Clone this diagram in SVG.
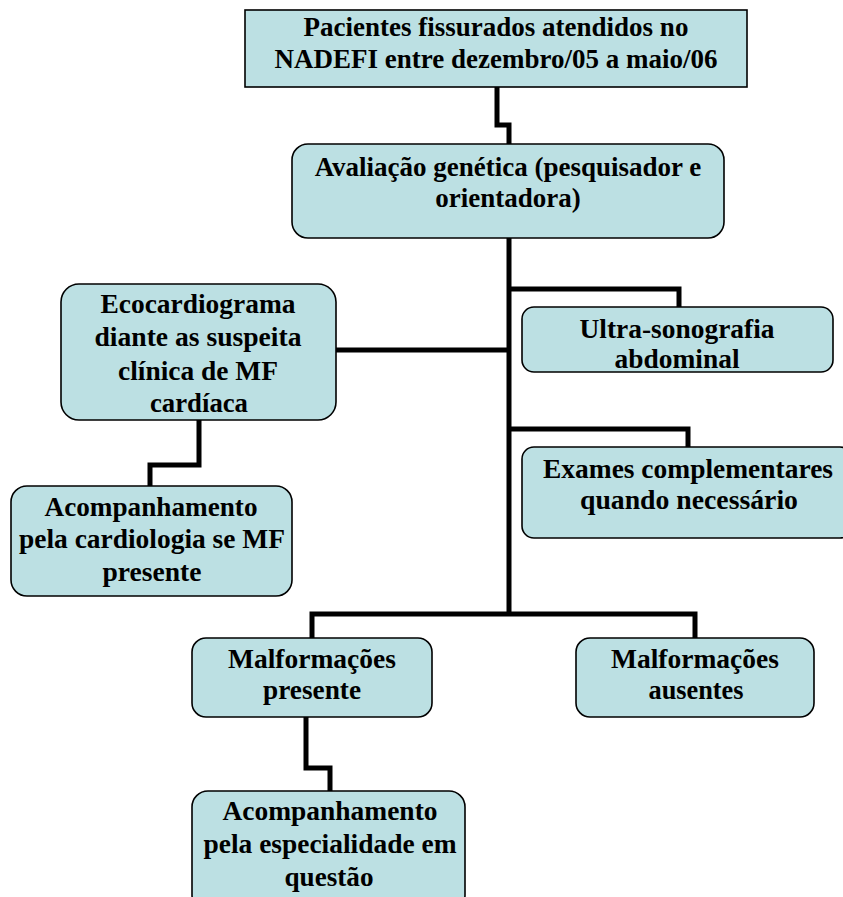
<svg xmlns="http://www.w3.org/2000/svg" width="843" height="897" viewBox="0 0 843 897">
<style>
.box{fill:#bce0e3;stroke:#000;stroke-width:1.6}
.t{font-family:'Liberation Serif',serif;font-weight:700;font-size:27px;fill:#000;text-anchor:middle}
.c{fill:none;stroke:#000;stroke-width:5;stroke-linejoin:miter}
</style>
<rect width="843" height="897" fill="#fff"/>
<g id="connectors">
<polyline class="c" points="497,87 497,125 509,125 509,144"/>
<polyline class="c" points="509,238 509,614"/>
<polyline class="c" points="509,289 679,289 679,307"/>
<polyline class="c" points="336,350 509,350"/>
<polyline class="c" points="509,429 688,429 688,447"/>
<polyline class="c" points="199,420 199,465 150,465 150,486"/>
<polyline class="c" points="312,638 312,614 695,614 695,638"/>
<polyline class="c" points="306,717 306,768 330,768 330,791"/>
</g>
<g id="n1">
<rect class="box" x="245" y="10" width="502" height="77"/>
<text class="t" x="496" y="36">Pacientes fissurados atendidos no</text>
<text class="t" x="496" y="68">NADEFI entre dezembro/05 a maio/06</text>
</g>
<g id="n2">
<rect class="box" x="292" y="144" width="432" height="94" rx="16"/>
<text class="t" x="508" y="176">Avaliação genética (pesquisador e</text>
<text class="t" x="508" y="207">orientadora)</text>
</g>
<g id="n3">
<rect class="box" x="61" y="284" width="275" height="136" rx="18"/>
<text class="t" x="198" y="313" textLength="195" lengthAdjust="spacingAndGlyphs">Ecocardiograma</text>
<text class="t" x="198" y="346" textLength="207" lengthAdjust="spacingAndGlyphs">diante as suspeita</text>
<text class="t" x="198" y="380" textLength="160" lengthAdjust="spacingAndGlyphs">clínica de MF</text>
<text class="t" x="199" y="412" textLength="98" lengthAdjust="spacingAndGlyphs">cardíaca</text>
</g>
<g id="n4">
<rect class="box" x="522" y="307" width="311" height="65" rx="12"/>
<text class="t" x="677" y="338" textLength="195" lengthAdjust="spacingAndGlyphs">Ultra-sonografia</text>
<text class="t" x="677" y="368" textLength="125" lengthAdjust="spacingAndGlyphs">abdominal</text>
</g>
<g id="n5">
<rect class="box" x="522" y="447" width="330" height="91" rx="12"/>
<text class="t" x="688" y="478" textLength="290" lengthAdjust="spacingAndGlyphs">Exames complementares</text>
<text class="t" x="689" y="509" textLength="218" lengthAdjust="spacingAndGlyphs">quando necessário</text>
</g>
<g id="n6">
<rect class="box" x="11" y="486" width="281" height="110" rx="16"/>
<text class="t" x="151" y="516" textLength="213" lengthAdjust="spacingAndGlyphs">Acompanhamento</text>
<text class="t" x="152" y="548" textLength="266" lengthAdjust="spacingAndGlyphs">pela cardiologia se MF</text>
<text class="t" x="152" y="581" textLength="99" lengthAdjust="spacingAndGlyphs">presente</text>
</g>
<g id="n7">
<rect class="box" x="192" y="638" width="240" height="79" rx="14"/>
<text class="t" x="312" y="668" textLength="168" lengthAdjust="spacingAndGlyphs">Malformações</text>
<text class="t" x="312" y="699" textLength="98" lengthAdjust="spacingAndGlyphs">presente</text>
</g>
<g id="n8">
<rect class="box" x="576" y="638" width="238" height="79" rx="14"/>
<text class="t" x="695" y="668" textLength="168" lengthAdjust="spacingAndGlyphs">Malformações</text>
<text class="t" x="696" y="699" textLength="95" lengthAdjust="spacingAndGlyphs">ausentes</text>
</g>
<g id="n9">
<rect class="box" x="192" y="791" width="273" height="120" rx="16"/>
<text class="t" x="330" y="820" textLength="215" lengthAdjust="spacingAndGlyphs">Acompanhamento</text>
<text class="t" x="330" y="853" textLength="253" lengthAdjust="spacingAndGlyphs">pela especialidade em</text>
<text class="t" x="329" y="886" textLength="89" lengthAdjust="spacingAndGlyphs">questão</text>
</g>
</svg>
